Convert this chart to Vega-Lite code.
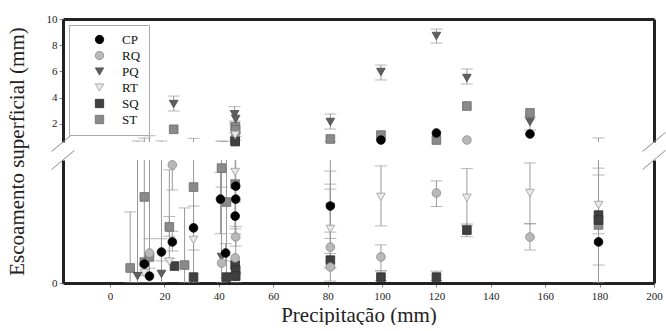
{
  "$schema": "https://vega.github.io/schema/vega-lite/v6.json",
  "padding": {"left": 5, "top": 13, "right": 0, "bottom": 0},
  "background": "white",
  "datasets": {
    "one": [{}],
    "pts": [
      {"s": "ST", "x": 7.4, "y": 0.061},
      {"s": "ST", "x": 12.6, "y": 0.35},
      {"s": "ST", "x": 12.6, "y": 0.085},
      {"s": "ST", "x": 14.5, "y": 0.106},
      {"s": "ST", "x": 21.8, "y": 0.228},
      {"s": "ST", "x": 27.4, "y": 0.073},
      {"s": "ST", "x": 30.7, "y": 0.39},
      {"s": "ST", "x": 41.0, "y": 0.467},
      {"s": "ST", "x": 42.8, "y": 0.329},
      {"s": "ST", "x": 46.0, "y": 0.402},
      {"s": "ST", "x": 179.6, "y": 0.236},
      {"s": "ST", "x": 23.4, "y": 1.57},
      {"s": "ST", "x": 46.0, "y": 1.77},
      {"s": "ST", "x": 46.2, "y": 1.52},
      {"s": "ST", "x": 46.0, "y": 0.75},
      {"s": "ST", "x": 81.0, "y": 0.83},
      {"s": "ST", "x": 99.6, "y": 1.13},
      {"s": "ST", "x": 120.0, "y": 0.75},
      {"s": "ST", "x": 131.2, "y": 3.35},
      {"s": "ST", "x": 154.4, "y": 2.82},
      {"s": "SQ", "x": 23.7, "y": 0.069},
      {"s": "SQ", "x": 30.7, "y": 0.024},
      {"s": "SQ", "x": 42.8, "y": 0.024},
      {"s": "SQ", "x": 46.0, "y": 0.073},
      {"s": "SQ", "x": 46.2, "y": 0.053},
      {"s": "SQ", "x": 46.2, "y": 0.028},
      {"s": "SQ", "x": 81.0, "y": 0.093},
      {"s": "SQ", "x": 99.6, "y": 0.024},
      {"s": "SQ", "x": 120.0, "y": 0.024},
      {"s": "SQ", "x": 131.2, "y": 0.215},
      {"s": "SQ", "x": 179.6, "y": 0.276},
      {"s": "SQ", "x": 179.6, "y": 0.256},
      {"s": "SQ", "x": 46.0, "y": 0.63},
      {"s": "RT", "x": 12.6, "y": 0.041},
      {"s": "RT", "x": 21.8, "y": 0.087},
      {"s": "RT", "x": 30.7, "y": 0.175},
      {"s": "RT", "x": 46.0, "y": 0.451},
      {"s": "RT", "x": 81.0, "y": 0.22},
      {"s": "RT", "x": 99.6, "y": 0.35},
      {"s": "RT", "x": 131.2, "y": 0.346},
      {"s": "RT", "x": 154.4, "y": 0.366},
      {"s": "RT", "x": 179.6, "y": 0.317},
      {"s": "RT", "x": 46.0, "y": 1.13},
      {"s": "PQ", "x": 10.1, "y": 0.028},
      {"s": "PQ", "x": 18.9, "y": 0.037},
      {"s": "PQ", "x": 41.0, "y": 0.106},
      {"s": "PQ", "x": 81.0, "y": 0.309},
      {"s": "PQ", "x": 23.4, "y": 3.5},
      {"s": "PQ", "x": 45.8, "y": 2.72},
      {"s": "PQ", "x": 46.2, "y": 2.36},
      {"s": "PQ", "x": 81.0, "y": 2.13},
      {"s": "PQ", "x": 99.6, "y": 5.95},
      {"s": "PQ", "x": 120.0, "y": 8.7},
      {"s": "PQ", "x": 131.2, "y": 5.49},
      {"s": "PQ", "x": 154.4, "y": 2.13},
      {"s": "RQ", "x": 14.5, "y": 0.122},
      {"s": "RQ", "x": 22.9, "y": 0.48},
      {"s": "RQ", "x": 41.0, "y": 0.081},
      {"s": "RQ", "x": 46.2, "y": 0.187},
      {"s": "RQ", "x": 46.0, "y": 0.102},
      {"s": "RQ", "x": 81.0, "y": 0.146},
      {"s": "RQ", "x": 81.0, "y": 0.065},
      {"s": "RQ", "x": 99.6, "y": 0.106},
      {"s": "RQ", "x": 120.0, "y": 0.366},
      {"s": "RQ", "x": 154.4, "y": 0.187},
      {"s": "RQ", "x": 131.2, "y": 0.75},
      {"s": "CP", "x": 12.6, "y": 0.077},
      {"s": "CP", "x": 14.5, "y": 0.028},
      {"s": "CP", "x": 18.9, "y": 0.126},
      {"s": "CP", "x": 22.9, "y": 0.167},
      {"s": "CP", "x": 30.7, "y": 0.224},
      {"s": "CP", "x": 40.6, "y": 0.341},
      {"s": "CP", "x": 42.5, "y": 0.122},
      {"s": "CP", "x": 46.2, "y": 0.394},
      {"s": "CP", "x": 46.2, "y": 0.341},
      {"s": "CP", "x": 46.0, "y": 0.272},
      {"s": "CP", "x": 81.0, "y": 0.313},
      {"s": "CP", "x": 179.6, "y": 0.167},
      {"s": "CP", "x": 99.6, "y": 0.75},
      {"s": "CP", "x": 120.0, "y": 1.29},
      {"s": "CP", "x": 154.4, "y": 1.21}
    ],
    "err": [
      {"s": "PQ", "x": 23.4, "lo": 2.97, "hi": 4.11},
      {"s": "PQ", "x": 45.8, "lo": 2.2, "hi": 3.3},
      {"s": "PQ", "x": 81.0, "lo": 1.59, "hi": 2.74},
      {"s": "PQ", "x": 99.6, "lo": 5.34, "hi": 6.48},
      {"s": "PQ", "x": 120.0, "lo": 8.16, "hi": 9.23},
      {"s": "PQ", "x": 131.2, "lo": 5.03, "hi": 6.18},
      {"s": "PQ", "x": 154.4, "lo": 1.52, "hi": 2.5},
      {"s": "ST", "x": 46.0, "lo": 1.3, "hi": 2.0},
      {"s": "ST", "x": 7.4, "lo": 0.0, "hi": 0.289},
      {"s": "PQ", "x": 10.1, "lo": 0.0, "hi": 0.68},
      {"s": "ST", "x": 12.6, "lo": 0.03, "hi": 0.9},
      {"s": "CP", "x": 14.5, "lo": 0.0, "hi": 1.08},
      {"s": "PQ", "x": 18.9, "lo": 0.0, "hi": 0.68},
      {"s": "ST", "x": 21.8, "lo": 0.1, "hi": 0.46},
      {"s": "RQ", "x": 22.9, "lo": 0.378, "hi": 0.56},
      {"s": "ST", "x": 27.4, "lo": 0.0, "hi": 0.305},
      {"s": "CP", "x": 30.7, "lo": 0.0, "hi": 0.88},
      {"s": "CP", "x": 41.0, "lo": 0.0, "hi": 0.68},
      {"s": "ST", "x": 42.8, "lo": 0.02, "hi": 0.62},
      {"s": "CP", "x": 46.2, "lo": 0.0, "hi": 1.0},
      {"s": "RT", "x": 46.0, "lo": 0.2, "hi": 0.75},
      {"s": "RQ", "x": 14.5, "lo": 0.06, "hi": 0.18},
      {"s": "CP", "x": 18.9, "lo": 0.09, "hi": 0.18},
      {"s": "CP", "x": 22.9, "lo": 0.13, "hi": 0.21},
      {"s": "ST", "x": 21.8, "lo": 0.19, "hi": 0.27},
      {"s": "CP", "x": 30.7, "lo": 0.134, "hi": 0.313},
      {"s": "CP", "x": 40.6, "lo": 0.2, "hi": 0.45},
      {"s": "ST", "x": 41.0, "lo": 0.39, "hi": 0.6},
      {"s": "CP", "x": 46.0, "lo": 0.22, "hi": 0.33},
      {"s": "RQ", "x": 46.2, "lo": 0.15, "hi": 0.23},
      {"s": "CP", "x": 42.5, "lo": 0.09, "hi": 0.16},
      {"s": "CP", "x": 81.0, "lo": 0.207, "hi": 0.455},
      {"s": "RT", "x": 81.0, "lo": 0.181, "hi": 0.382},
      {"s": "RQ", "x": 81.0, "lo": 0.008, "hi": 0.402},
      {"s": "SQ", "x": 81.0, "lo": 0.065, "hi": 0.12},
      {"s": "ST", "x": 81.0, "lo": 0.06, "hi": 0.62},
      {"s": "RT", "x": 99.6, "lo": 0.232, "hi": 0.476},
      {"s": "RQ", "x": 99.6, "lo": 0.049, "hi": 0.155},
      {"s": "SQ", "x": 99.6, "lo": 0.01, "hi": 0.05},
      {"s": "RQ", "x": 120.0, "lo": 0.311, "hi": 0.415},
      {"s": "SQ", "x": 120.0, "lo": 0.01, "hi": 0.048},
      {"s": "RT", "x": 131.2, "lo": 0.235, "hi": 0.465},
      {"s": "SQ", "x": 131.2, "lo": 0.188, "hi": 0.24},
      {"s": "RT", "x": 154.4, "lo": 0.242, "hi": 0.488},
      {"s": "RQ", "x": 154.4, "lo": 0.134, "hi": 0.24},
      {"s": "RT", "x": 179.6, "lo": 0.073, "hi": 0.467},
      {"s": "SQ", "x": 179.6, "lo": 0.0, "hi": 0.91},
      {"s": "ST", "x": 179.6, "lo": 0.2, "hi": 0.439}
    ]
  },
  "config": {
    "view": {"stroke": null},
    "font": "Liberation Serif",
    "axis": {
      "labelFont": "Liberation Serif",
      "labelFontSize": 11,
      "labelColor": "#222",
      "labelOverlap": false,
      "labelFlush": false,
      "tickColor": "#888",
      "tickSize": 4,
      "domainColor": "#222",
      "domainWidth": 3,
      "grid": false,
      "titleFont": "Liberation Serif",
      "titleFontWeight": "normal",
      "titleColor": "#222",
      "titleFontSize": 21
    },
    "legend": {
      "orient": "top-left",
      "offset": 6,
      "padding": 8,
      "strokeColor": "#aaa",
      "fillColor": "white",
      "labelFont": "Liberation Serif",
      "labelFontSize": 13,
      "labelColor": "#111",
      "symbolSize": 70,
      "symbolOffset": 16,
      "labelOffset": 16,
      "rowPadding": 2,
      "symbolStrokeWidth": 0.8
    }
  },
  "spacing": 18,
  "bounds": "flush",
  "resolve": {"scale": {"x": "independent", "y": "independent"}},
  "vconcat": [
    {
      "width": 591,
      "height": 123,
      "resolve": {"axis": {"y": "independent"}},
      "layer": [
        {
          "data": {"name": "err"},
          "mark": {"type": "rule", "color": "#999", "strokeWidth": 1, "clip": true},
          "encoding": {
            "x": {"field": "x", "type": "quantitative",
                  "scale": {"domain": [-17.3, 200], "nice": false, "zero": false},
                  "axis": {"orient": "top", "labels": false, "ticks": false, "title": null}},
            "y": {"field": "lo", "type": "quantitative",
                  "scale": {"domain": [0.6, 10], "nice": false, "zero": false},
                  "axis": {"orient": "left", "values": [2, 4, 6, 8, 10], "format": "d", "labelOverlap": false, "labelFlush": false, "title": "Escoamento superficial (mm)", "titleX": -36, "titleY": 132}},
            "y2": {"field": "hi"}
          }
        },
        {
          "data": {"name": "err"},
          "mark": {"type": "tick", "orient": "horizontal", "size": 12, "thickness": 1, "color": "#999", "clip": true},
          "encoding": {
            "x": {"field": "x", "type": "quantitative"},
            "y": {"field": "lo", "type": "quantitative", "axis": null}
          }
        },
        {
          "data": {"name": "err"},
          "mark": {"type": "tick", "orient": "horizontal", "size": 12, "thickness": 1, "color": "#999", "clip": true},
          "encoding": {
            "x": {"field": "x", "type": "quantitative"},
            "y": {"field": "hi", "type": "quantitative", "axis": null}
          }
        },
        {
          "data": {"name": "pts"},
          "transform": [{"filter": "datum.y >= 0.55"}],
          "mark": {"type": "point", "filled": true, "size": 75, "strokeWidth": 0.8, "opacity": 1},
          "encoding": {
            "x": {"field": "x", "type": "quantitative"},
            "y": {"field": "y", "type": "quantitative",
                  "axis": {"orient": "right", "labels": false, "ticks": false, "title": null}},
            "fill": {"field": "s", "type": "nominal", "title": null,
                     "scale": {"domain": ["CP", "RQ", "PQ", "RT", "SQ", "ST"], "range": ["#000000", "#b8b8b8", "#5f5f5f", "#e8e8e8", "#404040", "#8a8a8a"]}},
            "stroke": {"field": "s", "type": "nominal", "title": null,
                       "scale": {"domain": ["CP", "RQ", "PQ", "RT", "SQ", "ST"], "range": ["#000000", "#8c8c8c", "#4a4a4a", "#9a9a9a", "#2e2e2e", "#6a6a6a"]}},
            "shape": {"field": "s", "type": "nominal", "title": null,
                      "scale": {"domain": ["CP", "RQ", "PQ", "RT", "SQ", "ST"], "range": ["circle", "circle", "triangle-down", "triangle-down", "square", "square"]}}
          }
        },
        {
          "data": {"name": "one"},
          "mark": {"type": "rule", "color": "#888", "strokeWidth": 1},
          "encoding": {"x": {"datum": -21.5}, "x2": {"datum": -13.1}, "y": {"datum": -0.126, "axis": null}, "y2": {"datum": 1.326}}
        },
        {
          "data": {"name": "one"},
          "mark": {"type": "rule", "color": "#888", "strokeWidth": 1},
          "encoding": {"x": {"datum": 195.8}, "x2": {"datum": 204.2}, "y": {"datum": -0.126, "axis": null}, "y2": {"datum": 1.326}}
        }
      ]
    },
    {
      "width": 591,
      "height": 123,
      "resolve": {"axis": {"y": "independent"}},
      "layer": [
        {
          "data": {"name": "err"},
          "mark": {"type": "rule", "color": "#999", "strokeWidth": 1, "clip": true},
          "encoding": {
            "x": {"field": "x", "type": "quantitative",
                  "scale": {"domain": [-17.3, 200], "nice": false, "zero": false},
                  "axis": {"orient": "bottom", "values": [0, 20, 40, 60, 80, 100, 120, 140, 160, 180, 200], "format": "d", "labelFlush": false, "title": "Precipitação (mm)", "titlePadding": 3, "labelPadding": 3}},
            "y": {"field": "lo", "type": "quantitative",
                  "scale": {"domain": [0, 0.5], "nice": false, "zero": false},
                  "axis": {"orient": "left", "values": [0], "format": "d", "labelFlush": false, "title": null}},
            "y2": {"field": "hi"}
          }
        },
        {
          "data": {"name": "err"},
          "mark": {"type": "tick", "orient": "horizontal", "size": 12, "thickness": 1, "color": "#999", "clip": true},
          "encoding": {
            "x": {"field": "x", "type": "quantitative"},
            "y": {"field": "lo", "type": "quantitative", "axis": null}
          }
        },
        {
          "data": {"name": "err"},
          "mark": {"type": "tick", "orient": "horizontal", "size": 12, "thickness": 1, "color": "#999", "clip": true},
          "encoding": {
            "x": {"field": "x", "type": "quantitative"},
            "y": {"field": "hi", "type": "quantitative", "axis": null}
          }
        },
        {
          "data": {"name": "pts"},
          "transform": [{"filter": "datum.y <= 0.5"}],
          "mark": {"type": "point", "filled": true, "size": 75, "strokeWidth": 0.8, "opacity": 1},
          "encoding": {
            "x": {"field": "x", "type": "quantitative"},
            "y": {"field": "y", "type": "quantitative",
                  "axis": {"orient": "right", "labels": false, "ticks": false, "title": null}},
            "fill": {"field": "s", "type": "nominal", "title": null,
                     "scale": {"domain": ["CP", "RQ", "PQ", "RT", "SQ", "ST"], "range": ["#000000", "#b8b8b8", "#5f5f5f", "#e8e8e8", "#404040", "#8a8a8a"]}},
            "stroke": {"field": "s", "type": "nominal", "title": null,
                       "scale": {"domain": ["CP", "RQ", "PQ", "RT", "SQ", "ST"], "range": ["#000000", "#8c8c8c", "#4a4a4a", "#9a9a9a", "#2e2e2e", "#6a6a6a"]}},
            "shape": {"field": "s", "type": "nominal", "title": null,
                      "scale": {"domain": ["CP", "RQ", "PQ", "RT", "SQ", "ST"], "range": ["circle", "circle", "triangle-down", "triangle-down", "square", "square"]}}
          }
        },
        {
          "data": {"name": "one"},
          "mark": {"type": "rule", "color": "#888", "strokeWidth": 1},
          "encoding": {"x": {"datum": -21.5}, "x2": {"datum": -13.1}, "y": {"datum": 0.461, "axis": null}, "y2": {"datum": 0.539}}
        },
        {
          "data": {"name": "one"},
          "mark": {"type": "rule", "color": "#888", "strokeWidth": 1},
          "encoding": {"x": {"datum": 195.8}, "x2": {"datum": 204.2}, "y": {"datum": 0.461, "axis": null}, "y2": {"datum": 0.539}}
        }
      ]
    }
  ]
}
